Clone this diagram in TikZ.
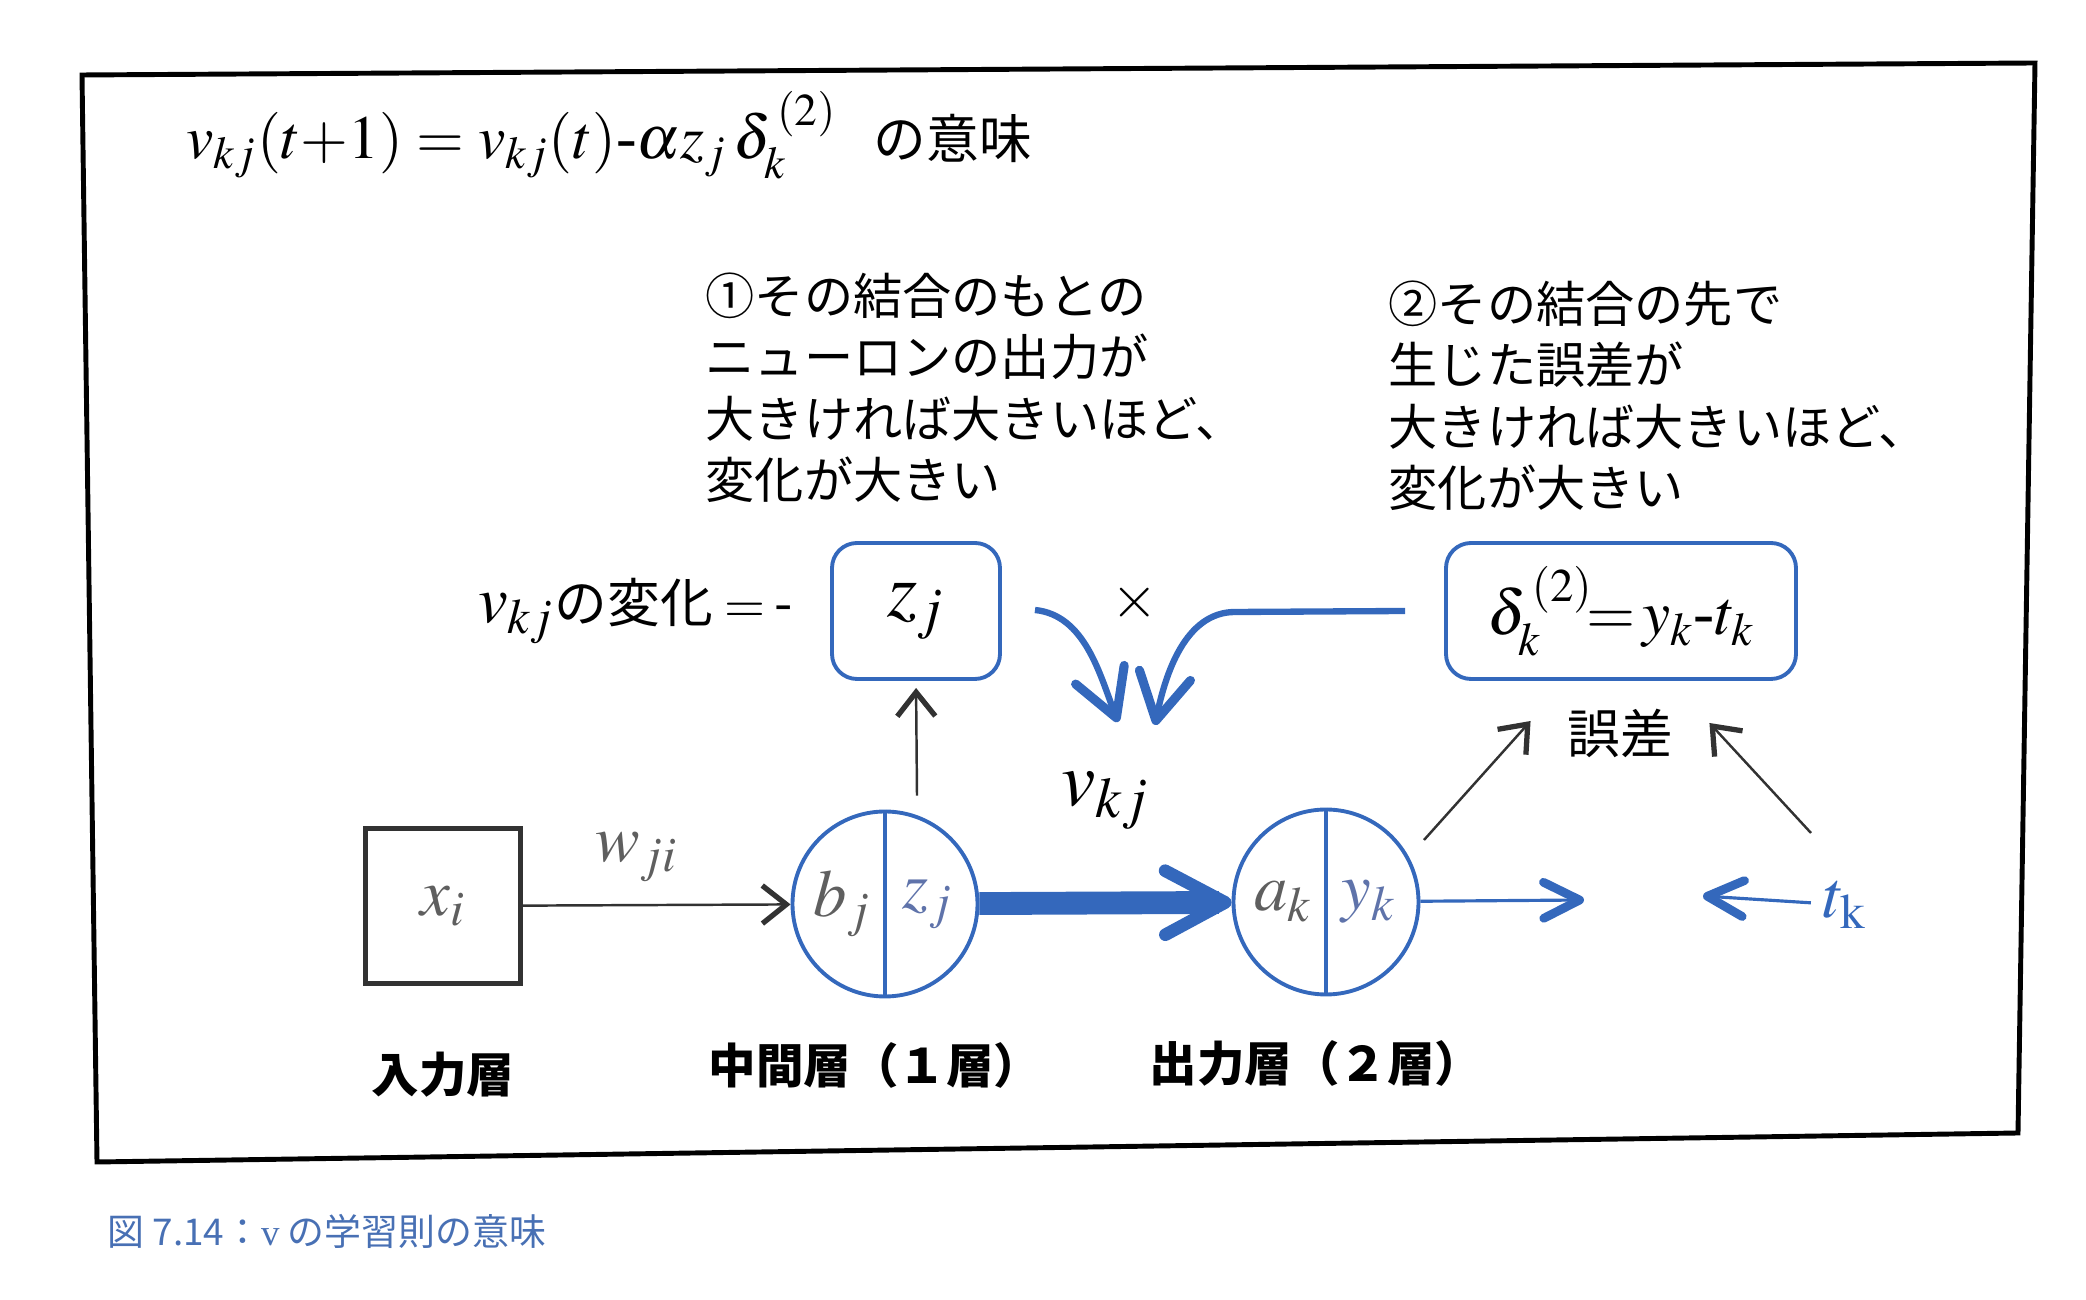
\documentclass[tikz,border=0pt]{standalone}
\usepackage{mathptmx}
\usepackage{fontspec}
\setmainfont{Liberation Serif}
\newfontfamily\jp{Noto Sans CJK JP}
\usetikzlibrary{positioning,calc,arrows.meta}
\definecolor{nblue}{RGB}{52,104,188}
\definecolor{cblue}{RGB}{72,112,180}
\definecolor{dgray}{RGB}{50,50,50}
\definecolor{mgray}{RGB}{95,95,95}
\definecolor{zgray}{RGB}{95,115,170}
\newcommand{\hy}{\mbox{-}}
\tikzset{
fr/.style={draw=black,line width=1.4pt},
mth/.style={font=\fontsize{19}{23}\selectfont},
big/.style={font=\fontsize{22}{26}\selectfont},
jt/.style={font=\jp\fontsize{15}{18}\selectfont},
ann/.style={align=left,anchor=north west,inner sep=0pt,font=\jp\fontsize{14}{17.5}\selectfont},
lay/.style={font=\jp\bfseries\fontsize{13.5}{16}\selectfont},
nr/.style={circle,draw=nblue,line width=1.1pt,minimum size=1.85cm,inner sep=0pt},
bx/.style={rectangle,rounded corners=0.25cm,draw=nblue,line width=1.1pt,minimum height=1.36cm},
inb/.style={rectangle,draw=dgray,line width=1.3pt,minimum size=1.55cm,text=mgray},
th/.style={draw=dgray,line width=0.7pt,-{Straight Barb[length=2.4mm,width=3.8mm,line width=1.5pt]}},
bl/.style={draw=nblue,line width=1.8pt,-{Straight Barb[length=4.6mm,width=5.2mm,line width=2.6pt,round]}},
blt/.style={draw=nblue,line width=0.9pt,-{Straight Barb[length=3.6mm,width=3.6mm,line width=2.5pt,round]}},
thk/.style={draw=nblue,line width=6.5pt,-{Straight Barb[length=6mm,width=6.4mm,line width=3.6pt,round]}},
}
\begin{document}
\begin{tikzpicture}
\useasboundingbox (0,0) rectangle (20.86,-13);
\draw[fr] (0.82,-0.75) -- (20.35,-0.63) -- (20.18,-11.33) -- (0.97,-11.62) -- cycle;

% title
\node[anchor=west,font=\fontsize{17.5}{21}\selectfont] (tit) at (1.74,-1.35)
  {$v_{kj}(t{+}1) = v_{kj}(t)\hy\alpha z_j\,\delta_k^{\kern1.5pt(2)}$\hspace{0.6em}{\jp\fontsize{15}{18}\selectfont の意味}};

% notes
\node[ann] (n1) at (7.05,-2.72) {①その結合のもとの\\ニューロンの出力が\\大きければ大きいほど、\\変化が大きい};
\node[ann] (n2) at (13.88,-2.80) {②その結合の先で\\生じた誤差が\\大きければ大きいほど、\\変化が大きい};

% update row
\node[bx,minimum width=1.68cm,big] (zb) at (9.16,-6.11) {$z_j$};
\node[mth,left=0.25cm of zb] (chg) {$v_{kj}$\jp\fontsize{15}{18}\selectfont の変化 $=$\,-};
\node[bx,minimum width=3.5cm,font=\fontsize{18}{22}\selectfont] (db) at (16.21,-6.11) {$\delta_k^{\kern1.5pt(2)}\!{=}\,y_k\hy t_k$};
\node[font=\fontsize{17}{20}\selectfont] (mul) at (11.35,-6.03) {$\times$};
\node[jt,inner xsep=0.36cm] (err) at (16.20,-7.33) {誤差};

\coordinate (c1) at (10.35,-6.10);
\coordinate (c2) at ($(db.west)+(-0.39,0)$);
\coordinate (m1) at (11.18,-7.22);
\coordinate (m2) at (11.55,-7.25);
\draw[bl] (c1) .. controls (10.85,-6.15) and (11.0,-6.75) .. (m1);
\draw[bl] (c2) -- (12.35,-6.12) .. controls (11.85,-6.12) and (11.65,-6.75) .. (m2);

% network
\node[inb,mth] (xi) at (4.43,-9.06) {$x_i$};
\node[nr] (hj) at (8.85,-9.04) {};
\node[nr] (ok) at (13.26,-9.02) {};
\draw[nblue,line width=1.1pt] (hj.north) -- (hj.south);
\draw[nblue,line width=1.1pt] (ok.north) -- (ok.south);
\node[mth,mgray] at ($(hj)+(-0.43,0)$) {$b_j$};
\node[mth,zgray] at ($(hj)+(0.43,0)$) {$z_j$};
\node[mth,mgray] at ($(ok)+(-0.43,0)$) {$a_k$};
\node[mth,zgray] at ($(ok)+(0.43,0)$) {$y_k$};
\node[mth,text=nblue] (tk) at (18.45,-9.05) {$t_{\mathrm{k}}$};
\coordinate (yo) at (15.84,-9.00);
\coordinate (ti) at (17.03,-8.96);
\coordinate (e1) at (14.24,-8.40);
\coordinate (e2) at (18.11,-8.33);

\path
(xi) edge[th] node[mth,mgray,above=0.1cm,xshift=-0.2cm] {$w_{ji}$} (hj)
(hj) edge[thk] node[big,above=0.5cm] {$v_{kj}$} (ok)
(ok) edge[blt] (yo)
(tk) edge[blt] (ti)
;
\draw[th,shorten >=2pt] ($(hj.north)+(0.32,0.14)$) -- (zb.south);
\draw[th] (e1) -- ($(err.west)+(0,0.12)$);
\draw[th] (e2) -- ($(err.east)+(0,0.10)$);

% layers
\node[lay] (l0) at (4.43,-10.75) {入力層};
\node[lay] (l1) at (8.75,-10.65) {中間層（１層）};
\node[lay] (l2) at (13.16,-10.63) {出力層（２層）};

% caption
\node[anchor=west,text=cblue,font=\jp\fontsize{10.5}{13}\selectfont] (cap) at (0.95,-12.31) {図 7.14：{\rmfamily v} の学習則の意味};
\end{tikzpicture}
\end{document}
